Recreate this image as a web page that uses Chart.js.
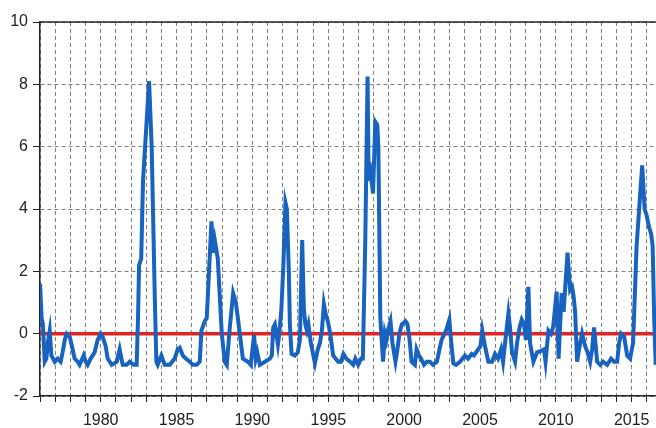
<!DOCTYPE html>
<html lang="en">
<head>
<meta charset="UTF-8">
<title>Series 1976-2016</title>
<script src="https://cdn.jsdelivr.net/npm/chart.js"></script>
<style>
    html, body { margin: 0; padding: 0; background: #fff; }
</style>
</head>
<body>
<canvas id="chart" width="656" height="428"></canvas>
<script>
// values (year, value)
const years = [
    1976.00, 1976.11, 1976.19, 1976.31, 1976.42, 1976.54, 1976.64, 1976.75, 1976.97, 1977.16,
    1977.36, 1977.49, 1977.63, 1977.76, 1977.96, 1978.15, 1978.28, 1978.48, 1978.61, 1978.88,
    1979.01, 1979.14, 1979.34, 1979.60, 1979.80, 1980.00, 1980.13, 1980.33, 1980.46, 1980.73,
    1981.06, 1981.25, 1981.45, 1981.72, 1981.91, 1982.18, 1982.37, 1982.46, 1982.53, 1982.67,
    1982.79, 1983.19, 1983.36, 1983.56, 1983.67, 1983.76, 1984.00, 1984.22, 1984.55, 1984.88,
    1985.08, 1985.21, 1985.41, 1985.61, 1985.87, 1986.07, 1986.33, 1986.53, 1986.64, 1986.86,
    1986.99, 1987.30, 1987.41, 1987.52, 1987.72, 1987.98, 1988.18, 1988.31, 1988.51, 1988.73,
    1988.91, 1989.04, 1989.17, 1989.37, 1989.70, 1989.89, 1990.11, 1990.22, 1990.32, 1990.49,
    1990.82, 1991.15, 1991.28, 1991.37, 1991.48, 1991.68, 1991.77, 1991.91, 1992.04, 1992.18,
    1992.27, 1992.40, 1992.47, 1992.58, 1992.80, 1992.99, 1993.13, 1993.28, 1993.39, 1993.49,
    1993.59, 1993.69, 1993.85, 1994.12, 1994.31, 1994.45, 1994.58, 1994.71, 1994.84, 1994.97,
    1995.13, 1995.32, 1995.65, 1995.83, 1996.00, 1996.18, 1996.44, 1996.64, 1996.78, 1996.97,
    1997.17, 1997.28, 1997.44, 1997.59, 1997.66, 1997.71, 1997.95, 1998.10, 1998.23, 1998.30,
    1998.43, 1998.61, 1998.73, 1998.83, 1998.93, 1999.10, 1999.23, 1999.43, 1999.56, 1999.69,
    1999.85, 2000.09, 2000.22, 2000.36, 2000.49, 2000.71, 2000.82, 2000.98, 2001.11, 2001.31,
    2001.50, 2001.70, 2001.90, 2002.16, 2002.33, 2002.47, 2002.56, 2002.76, 2002.98, 2003.09,
    2003.24, 2003.42, 2003.68, 2004.01, 2004.21, 2004.45, 2004.60, 2004.89, 2005.03, 2005.15,
    2005.33, 2005.55, 2005.79, 2005.99, 2006.19, 2006.39, 2006.52, 2006.72, 2006.87, 2006.98,
    2007.11, 2007.31, 2007.44, 2007.61, 2007.75, 2007.90, 2008.03, 2008.19, 2008.30, 2008.52,
    2008.76, 2009.02, 2009.22, 2009.32, 2009.51, 2009.68, 2009.82, 2010.05, 2010.18, 2010.38,
    2010.51, 2010.77, 2010.94, 2011.07, 2011.17, 2011.27, 2011.40, 2011.53, 2011.73, 2011.93,
    2012.09, 2012.26, 2012.39, 2012.52, 2012.72, 2012.92, 2013.11, 2013.38, 2013.64, 2013.84,
    2014.04, 2014.17, 2014.30, 2014.50, 2014.70, 2014.89, 2015.09, 2015.32, 2015.49, 2015.69,
    2015.85, 2015.98, 2016.15, 2016.28, 2016.38, 2016.48, 2016.58
];
const values = [
    1.6, 0.5, 0.3, -0.9, -0.8, -0.2, 0.1, -0.7, -0.9, -0.8,
    -0.9, -0.6, -0.2, 0.0, -0.1, -0.5, -0.8, -0.9, -1.0, -0.7,
    -0.9, -1.0, -0.8, -0.6, -0.2, 0.0, -0.1, -0.4, -0.8, -1.0,
    -0.9, -0.5, -1.0, -1.0, -0.9, -1.0, -1.0, 0.5, 2.2, 2.4,
    4.9, 8.1, 6.0, 1.3, -0.9, -1.0, -0.7, -1.0, -1.0, -0.8,
    -0.5, -0.45, -0.7, -0.8, -0.9, -1.0, -1.0, -0.9, 0.1, 0.4,
    0.5, 3.6, 2.6, 3.0, 2.4, 0.0, -0.9, -1.0, 0.2, 1.3,
    1.0, 0.5, 0.0, -0.8, -0.9, -1.0, -0.05, -0.8, -0.6, -1.0,
    -0.9, -0.8, -0.7, 0.2, 0.3, -0.35, 0.0, 0.8, 2.2, 4.2,
    4.0, 2.0, 0.3, -0.65, -0.7, -0.6, -0.2, 3.0, 0.8, 0.3,
    0.1, 0.3, -0.3, -0.95, -0.5, -0.3, 0.1, 0.95, 0.6, 0.4,
    0.0, -0.7, -0.9, -0.9, -0.65, -0.8, -0.9, -1.0, -0.8, -1.0,
    -0.8, -0.8, 3.0, 8.25, 4.9, 5.5, 4.5, 6.8, 6.7, 6.0,
    0.5, -0.9, 0.0, -0.2, 0.1, 0.4, -0.3, -0.9, -0.5, 0.0,
    0.3, 0.4, 0.3, -0.2, -0.9, -1.0, -0.5, -0.7, -0.8, -1.0,
    -0.9, -0.9, -1.0, -0.9, -0.5, -0.2, -0.1, 0.1, 0.45, -0.2,
    -0.95, -1.0, -0.9, -0.7, -0.8, -0.65, -0.7, -0.5, -0.4, 0.1,
    -0.4, -0.9, -0.9, -0.65, -0.8, -0.5, -0.9, 0.0, 0.65, 0.2,
    -0.6, -0.9, -0.3, 0.2, 0.45, 0.3, -0.2, 1.5, -0.3, -0.9,
    -0.6, -0.55, -0.5, -0.9, 0.1, 0.0, 0.2, 1.35, -0.8, 1.3,
    0.7, 2.6, 1.4, 1.5, 1.2, 0.7, -0.9, -0.5, 0.0, -0.4,
    -0.6, -0.9, -0.5, 0.2, -0.9, -1.0, -0.9, -1.0, -0.8, -0.9,
    -0.9, -0.3, 0.0, -0.1, -0.7, -0.8, -0.3, 2.8, 4.0, 5.4,
    4.0, 3.8, 3.4, 3.2, 2.8, 0.5, -1.0
];
const zeroYears = [1976, 2016.6];
const zeroValues = [0, 0];
const yTicks = [-2, 0, 2, 4, 6, 8, 10];

const topFrame = {
    id: 'topFrame',
    beforeDatasetsDraw(chart) {
        const { ctx, chartArea } = chart;
        ctx.save();
        ctx.strokeStyle = '#222';
        ctx.lineWidth = 1.5;
        ctx.beginPath();
        ctx.moveTo(chartArea.left, chartArea.top);
        ctx.lineTo(chartArea.right, chartArea.top);
        ctx.stroke();
        ctx.restore();
    }
};

const ctx = document.getElementById('chart').getContext('2d');
new Chart(ctx, {
    type: 'line',
    data: {
        datasets: [{
            data: years.map((x, i) => ({ x, y: values[i] })),
            borderColor: '#1862c0',
            borderWidth: 4,
            pointRadius: 0,
            tension: 0,
            order: 0
        }, {
            data: zeroYears.map((x, i) => ({ x, y: zeroValues[i] })),
            borderColor: '#e02424',
            borderWidth: 3.5,
            pointRadius: 0,
            order: 1
        }]
    },
    options: {
        responsive: false,
        animation: false,
        devicePixelRatio: 1,
        layout: { padding: { top: 22, left: 0, right: 0, bottom: 0 } },
        plugins: { legend: { display: false }, tooltip: { enabled: false } },
        scales: {
            x: {
                type: 'linear',
                min: zeroYears[0],
                max: zeroYears[1],
                afterFit: s => { s.height = 32; },
                ticks: {
                    stepSize: 1,
                    autoSkip: false,
                    maxRotation: 0,
                    includeBounds: false,
                    padding: 9,
                    color: '#222',
                    font: { family: 'Liberation Sans, Arial', size: 16 },
                    callback: v => (v % 5 === 0 ? String(v) : '')
                },
                grid: { color: '#808080', tickLength: 6, tickColor: '#222', tickBorderDash: [] },
                border: { color: '#222', width: 1.5, dash: [4, 3] }
            },
            y: {
                min: yTicks[0],
                max: yTicks[yTicks.length - 1],
                afterFit: s => { s.width = 40; },
                afterBuildTicks: s => { s.ticks = yTicks.map(v => ({ value: v })); },
                ticks: {
                    padding: 5,
                    color: '#222',
                    font: { family: 'Liberation Sans, Arial', size: 16 }
                },
                grid: { color: '#808080', tickLength: 7, tickColor: '#222', tickBorderDash: [] },
                border: { color: '#222', width: 1.5, dash: [4, 3] }
            }
        }
    },
    plugins: [topFrame]
});
</script>
</body>
</html>
